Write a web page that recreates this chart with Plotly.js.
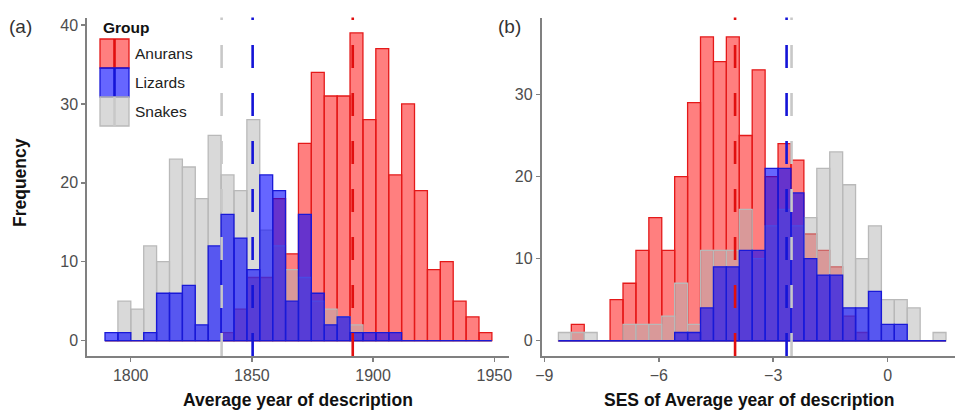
<!DOCTYPE html>
<html><head><meta charset="utf-8">
<script src="https://cdn.plot.ly/plotly-3.0.1.min.js"></script>
<style>html,body{margin:0;padding:0;background:#fff}#chart{width:955px;height:411px}</style>
</head><body><div id="chart"></div>
<script>
// ---------- data ----------
const groups = ['Anurans', 'Lizards', 'Snakes'];

// (a) Average year of description : histogram bins (30 bins)
const yearBinStart = 1789.4;
const yearBinWidth = 5.32;
const yearAnurans = [0,0,0,0,0,0,0,0,0,1,4,8,8,18,11,25,34,31,31,39,28,37,21,30,19,9,10,5,3,1];
const yearLizards = [1,1,0,1,6,6,7,2,12,16,13,9,21,19,5,16,6,2,3,1,1,1,1,0,0,0,0,0,0,0];
const yearSnakes  = [0,5,4,12,10,23,22,18,26,21,19,28,14,12,9,8,5,4,3,2,0,0,0,0,0,0,0,0,0,0];
const yearMeans   = [1891.6, 1850.3, 1837.5];   // Anurans, Lizards, Snakes

// (b) SES of average year of description : histogram bins (30 bins)
const sesBinStart = -8.63;
const sesBinWidth = 0.3386;
const sesAnurans = [0,2,0,0,5,7,11,15,11,20,29,37,34,37,25,33,20,24,22,13,11,9,3,1,0,0,0,0,0,0];
const sesLizards = [0,0,0,0,0,0,0,0,0,1,1,4,9,9,11,11,21,21,18,10,8,8,4,4,6,2,2,0,0,0];
const sesSnakes  = [1,1,1,0,0,2,2,2,3,7,2,11,11,11,16,10,14,16,14,15,21,23,19,10,14,5,5,4,0,1];
const sesMeans   = [-4.0, -2.65, -2.52];

const yearTicks = [1800, 1850, 1900, 1950];
const sesTicks  = [-9, -6, -3, 0];
const freqTicksA = [0, 10, 20, 30, 40];
const freqTicksB = [0, 10, 20, 30];

// ---------- styles ----------
const W = 955, H = 411;
const px = v => v / W, py = v => 1 - v / H;
const fills = {Anurans: 'rgba(255,0,0,0.5)', Lizards: 'rgba(0,0,255,0.6)', Snakes: 'rgba(180,180,180,0.5)'};
const lines = {Anurans: 'rgb(228,25,25)', Lizards: 'rgb(25,25,215)', Snakes: 'rgb(185,185,185)'};
const meanLine = {Anurans: 'rgb(225,15,15)', Lizards: 'rgb(20,20,215)', Snakes: 'rgb(200,200,200)'};
const FONT = 'Liberation Sans, Arial, Helvetica, sans-serif';

function centers(start, width, n) {
  const c = [];
  for (let i = 0; i < n; i++) c.push(start + width * (i + 0.5));
  return c;
}

const panels = [
  {xa: 'x', ya: 'y', start: yearBinStart, width: yearBinWidth,
   counts: {Anurans: yearAnurans, Lizards: yearLizards, Snakes: yearSnakes}, means: yearMeans},
  {xa: 'x2', ya: 'y2', start: sesBinStart, width: sesBinWidth,
   counts: {Anurans: sesAnurans, Lizards: sesLizards, Snakes: sesSnakes}, means: sesMeans}
];

const drawOrder = ['Anurans', 'Snakes', 'Lizards'];
const traces = [];
const shapes = [];
panels.forEach(p => {
  drawOrder.forEach(g => {
    const ys = p.counts[g];
    traces.push({
      type: 'bar', x: centers(p.start, p.width, ys.length), y: ys, width: p.width,
      xaxis: p.xa, yaxis: p.ya, name: g, hoverinfo: 'x+y+name',
      marker: {color: fills[g], line: {color: lines[g], width: 1.3}}
    });
  });
  drawOrder.forEach(g => {
    const n = p.counts[g].length;
    traces.push({
      type: 'scatter', mode: 'lines', x: [p.start, p.start + n * p.width], y: [0, 0],
      xaxis: p.xa, yaxis: p.ya, hoverinfo: 'skip', line: {color: lines[g], width: 1.4}
    });
  });
  ['Snakes', 'Anurans', 'Lizards'].forEach(g => {
    const m = p.means[groups.indexOf(g)];
    shapes.push({type: 'line', xref: p.xa, yref: p.ya + ' domain', x0: m, x1: m, y0: 0, y1: 1,
      layer: 'above', line: {color: meanLine[g], width: 2.6, dash: '23px,25px'}});
  });
});

// legend (manual, ggplot style keys)
const keyTop = [39, 68, 97];
groups.forEach((g, i) => {
  shapes.push({type: 'rect', xref: 'paper', yref: 'paper', x0: px(100), x1: px(129),
    y0: py(keyTop[i] + 29), y1: py(keyTop[i]), fillcolor: fills[g], line: {color: lines[g], width: 1.3}});
  shapes.push({type: 'line', xref: 'paper', yref: 'paper', x0: px(114.5), x1: px(114.5),
    y0: py(keyTop[i] + 29), y1: py(keyTop[i]), line: {color: meanLine[g], width: 2.6}});
});

const annotations = [
  {text: '(a)', x: px(7), y: py(26), xanchor: 'left', yanchor: 'middle', font: {size: 19, color: '#333'}},
  {text: '(b)', x: px(496), y: py(26), xanchor: 'left', yanchor: 'middle', font: {size: 19, color: '#333'}},
  {text: '<b>Average year of description</b>', x: px(297.5), y: py(400), xanchor: 'center', yanchor: 'middle', font: {size: 17.5, color: '#111'}},
  {text: '<b>SES of Average year of description</b>', x: px(749), y: py(400), xanchor: 'center', yanchor: 'middle', font: {size: 17.5, color: '#111'}},
  {text: '<b>Frequency</b>', x: px(20), y: py(183), xanchor: 'center', yanchor: 'middle', textangle: -90, font: {size: 17.5, color: '#111'}},
  {text: '<b>Group</b>', x: px(101), y: py(27), xanchor: 'left', yanchor: 'middle', font: {size: 15.5, color: '#111'}}
];
groups.forEach((g, i) => {
  annotations.push({text: g, x: px(133), y: py(keyTop[i] + 14.5), xanchor: 'left', yanchor: 'middle', font: {size: 15.5, color: '#222'}});
});
annotations.forEach(a => { a.xref = 'paper'; a.yref = 'paper'; a.showarrow = false; });

const axisBase = {
  showline: true, linecolor: '#808080', linewidth: 1.7, ticks: 'outside', ticklen: 4, tickwidth: 1.5,
  tickcolor: '#808080', showgrid: false, zeroline: false, fixedrange: true, automargin: false,
  tickfont: {size: 16, color: '#4d4d4d'}
};
const yDom = [(H - 356) / H, (H - 17.5) / H];

const layout = {
  width: W, height: H, margin: {l: 0, r: 0, t: 0, b: 0},
  paper_bgcolor: '#fff', plot_bgcolor: '#fff', showlegend: false,
  barmode: 'overlay', bargap: 0, font: {family: FONT, color: '#4d4d4d'},
  xaxis: Object.assign({}, axisBase, {domain: [px(87), px(509)], range: [1781.97, 1956.06], tickvals: yearTicks, anchor: 'y'}),
  yaxis: Object.assign({}, axisBase, {domain: yDom, range: [-1.95, 40.95], tickvals: freqTicksA, anchor: 'x'}),
  xaxis2: Object.assign({}, axisBase, {domain: [px(541.5), 1], range: [-9.073, 1.764], tickvals: sesTicks, anchor: 'y2'}),
  yaxis2: Object.assign({}, axisBase, {domain: yDom, range: [-1.86, 39.37], tickvals: freqTicksB, anchor: 'x2'}),
  shapes: shapes, annotations: annotations
};

Plotly.newPlot('chart', traces, layout, {displayModeBar: false, staticPlot: true});
</script>
</body></html>
